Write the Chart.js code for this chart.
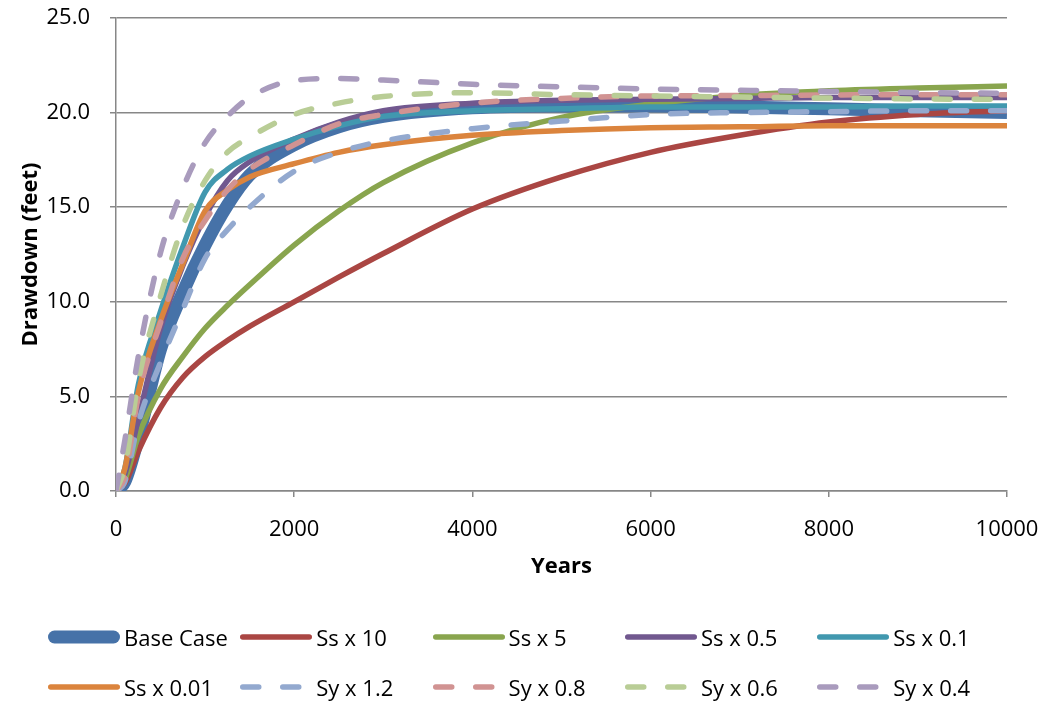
<!DOCTYPE html>
<html>
<head>
<meta charset="utf-8">
<script src="https://cdn.jsdelivr.net/npm/chart.js@4.4.1/dist/chart.umd.min.js"></script>
<style>
  body { margin: 0; background: #fff; }
  #wrap { position: relative; width: 1047px; height: 707px; font-family: 'Open Sans', sans-serif; }
  #legend .item { position: absolute; height: 26px; }
  #legend svg { position: absolute; left: 0; top: 5px; }
  #legend span { position: absolute; left: 77px; top: 0; font-size: 22px; line-height: 26px; color: #000; white-space: nowrap; }
</style>
</head>
<body>
<div id="wrap">
  <canvas id="chart" width="1047" height="707"></canvas>
  <div id="legend"></div>
</div>
<script>
// datos (anos vs abatimiento en pies)
const years = [0, 100, 250, 500, 750, 1000, 1250, 1500, 2000, 2500, 3000, 4000, 5000, 6000, 7000, 8000, 9000, 10000];

const baseCase = [0, 0.5, 2.8, 7.5, 10.5, 13.0, 15.1, 16.7, 18.3, 19.25, 19.8, 20.25, 20.35, 20.35, 20.3, 20.2, 20.1, 20.0];
const ssX10    = [0, 0.4, 2.1, 4.4, 6.0, 7.1, 7.95, 8.7, 10.0, 11.3, 12.55, 14.9, 16.6, 17.9, 18.8, 19.5, 19.9, 20.1];
const ssX5     = [0, 0.6, 2.9, 5.4, 7.1, 8.6, 9.8, 10.9, 13.0, 14.8, 16.3, 18.4, 19.75, 20.45, 20.9, 21.15, 21.3, 21.4];
const ssX05    = [0, 0.9, 3.8, 8.6, 11.9, 14.5, 16.4, 17.4, 18.6, 19.5, 20.1, 20.5, 20.65, 20.7, 20.75, 20.8, 20.8, 20.8];
const ssX01    = [0, 1.2, 5.6, 9.5, 12.9, 15.8, 17.0, 17.7, 18.6, 19.3, 19.8, 20.1, 20.2, 20.3, 20.3, 20.3, 20.35, 20.35];
const ssX001   = [0, 1.2, 5.2, 9.0, 12.0, 14.8, 15.9, 16.6, 17.3, 17.9, 18.3, 18.8, 19.05, 19.2, 19.25, 19.3, 19.3, 19.3];
const syX12    = [0, 0.5, 3.6, 6.8, 9.6, 12.3, 13.8, 15.0, 16.9, 17.9, 18.5, 19.15, 19.55, 19.9, 20.0, 20.05, 20.1, 20.1];
const syX08    = [0, 0.8, 5.0, 8.9, 12.3, 14.3, 15.9, 17.0, 18.3, 19.4, 19.9, 20.5, 20.75, 20.88, 20.9, 20.93, 20.95, 20.95];
const syX06    = [0, 1.3, 5.8, 10.3, 14.0, 16.4, 17.9, 18.7, 19.9, 20.5, 20.85, 21.05, 20.95, 20.88, 20.82, 20.77, 20.72, 20.7];
const syX04    = [0, 2.7, 7.1, 12.6, 16.0, 18.4, 19.8, 20.8, 21.7, 21.8, 21.72, 21.5, 21.36, 21.25, 21.18, 21.12, 21.06, 21.02];

const seriesNames = ['Base Case', 'Ss x 10', 'Ss x 5', 'Ss x 0.5', 'Ss x 0.1',
                     'Ss x 0.01', 'Sy x 1.2', 'Sy x 0.8', 'Sy x 0.6', 'Sy x 0.4'];
const seriesValues = [baseCase, ssX10, ssX5, ssX05, ssX01, ssX001, syX12, syX08, syX06, syX04];

const xTicks = [0, 2000, 4000, 6000, 8000, 10000];
const yTicks = [0, 5, 10, 15, 20, 25];

// estilos de cada serie
const colors = ['#4672A8', '#AA4643', '#89A54E', '#71588F', '#4198AF',
                '#DB843D', '#93A9CF', '#D19392', '#B9CD96', '#A99BBD'];
const widths = [13, 5.5, 5.5, 5.5, 5.5, 5.5, 5.5, 5.5, 5.5, 5.5];
const dashed = [false, false, false, false, false, false, true, true, true, true];
const DASH = [16, 24];

Chart.defaults.font.family = "'Open Sans', sans-serif";
Chart.defaults.color = '#000';

const gridColor = '#878787';

const datasets = seriesNames.map((name, i) => ({
  label: name,
  data: years.map((y, j) => ({ x: y, y: seriesValues[i][j] })),
  borderColor: colors[i],
  backgroundColor: colors[i],
  borderWidth: widths[i],
  borderDash: dashed[i] ? DASH : [],
  borderCapStyle: dashed[i] ? 'round' : 'butt',
  borderJoinStyle: 'round',
  pointRadius: 0,
  cubicInterpolationMode: 'monotone',
  fill: false,
  order: seriesNames.length - i  // las ultimas series quedan encima, como en Excel
}));

const chart = new Chart(document.getElementById('chart'), {
  type: 'line',
  data: { datasets },
  options: {
    responsive: false,
    animation: false,
    layout: { padding: { left: 14, right: 40, top: 18, bottom: 123 } },
    plugins: { legend: { display: false }, tooltip: { enabled: false } },
    scales: {
      x: {
        type: 'linear',
        min: 0,
        max: 10000,
        afterBuildTicks: s => { s.ticks = xTicks.map(v => ({ value: v })); },
        afterFit: s => { s.height = 93; s.paddingLeft = 0; s.paddingRight = 0; },
        grid: { drawOnChartArea: false, color: gridColor, tickLength: 6, lineWidth: 1.5 },
        border: { color: gridColor, width: 1.5 },
        ticks: { font: { size: 22 }, padding: 20, maxRotation: 0, callback: v => String(v) },
        title: { display: true, text: 'Years', font: { size: 22, weight: 'bold' }, padding: { top: 0, bottom: 4 } }
      },
      y: {
        min: 0,
        max: 25,
        afterBuildTicks: s => { s.ticks = yTicks.map(v => ({ value: v })); },
        afterFit: s => { s.width = 102; s.paddingTop = 0; s.paddingBottom = 0; },
        grid: { color: gridColor, tickLength: 6, lineWidth: 1.5 },
        border: { color: gridColor, width: 1.5 },
        ticks: { font: { size: 22 }, padding: 20, callback: v => Number(v).toFixed(1) },
        title: { display: true, text: 'Drawdown (feet)', font: { size: 22, weight: 'bold' }, padding: { top: 4, bottom: 0 } }
      }
    }
  }
});

// leyenda en dos filas de cinco columnas
const legendEl = document.getElementById('legend');
const rowY = [637, 687];
seriesNames.forEach((name, i) => {
  const col = i % 5;
  const row = Math.floor(i / 5);
  const item = document.createElement('div');
  item.className = 'item';
  item.style.left = (47 + col * 192.3) + 'px';
  item.style.top = (rowY[row] - 13) + 'px';
  const w = widths[i];
  const cap = w / 2;
  const dash = dashed[i] ? `stroke-dasharray="${DASH[0]} ${DASH[1]}"` : '';
  item.innerHTML =
    `<svg width="76" height="16"><line x1="${cap + 1}" y1="8" x2="${(dashed[i] ? 66 : 73) - cap}" y2="8" ` +
    `stroke="${colors[i]}" stroke-width="${w}" stroke-linecap="round" ${dash}/></svg>` +
    `<span>${name}</span>`;
  legendEl.appendChild(item);
});
</script>
</body>
</html>
